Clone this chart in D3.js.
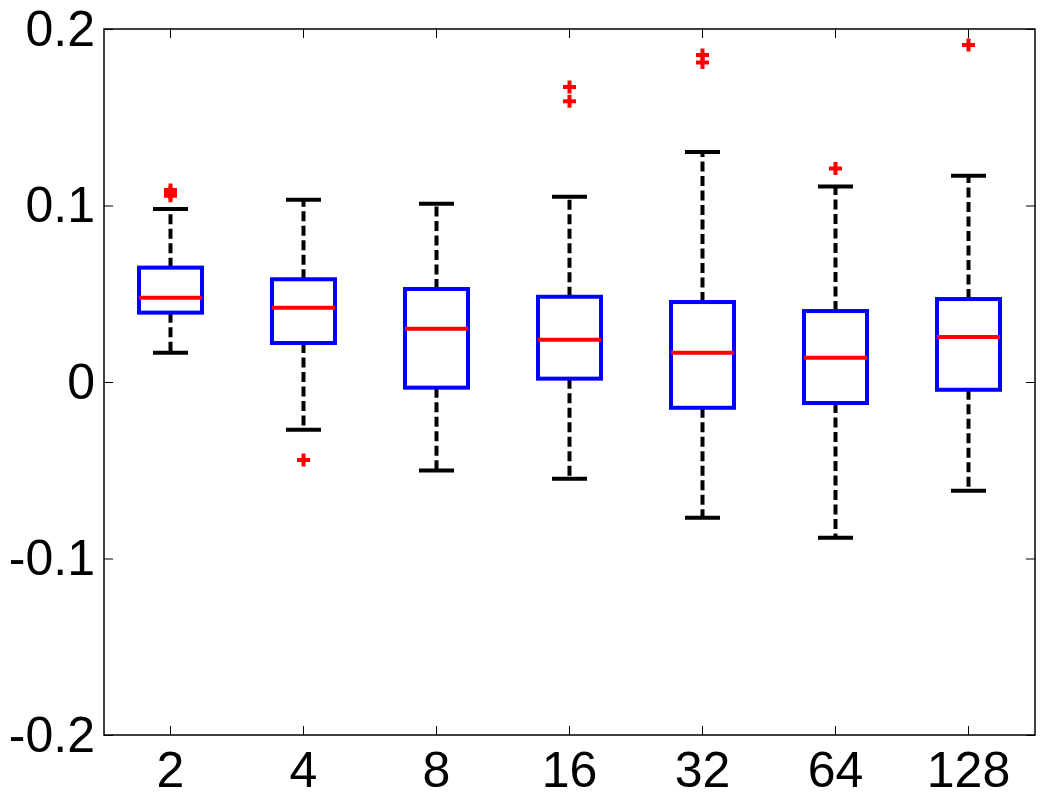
<!DOCTYPE html>
<html>
<head>
<meta charset="utf-8">
<script src="https://cdn.jsdelivr.net/npm/d3@7"></script>
<style>
  body { margin: 0; background: #fff; overflow: hidden; }
  svg { display: block; }
  .axis text { font-family: "Liberation Sans", Arial, sans-serif; font-size: 50px; fill: #000; }
</style>
</head>
<body>
<div id="chart"></div>
<script>
// Data
const categories = ["2", "4", "8", "16", "32", "64", "128"];
const whiskerHi = [0.098, 0.1033, 0.101, 0.105, 0.1303, 0.1107, 0.1169];
const q3        = [0.0648, 0.0582, 0.0527, 0.0483, 0.0453, 0.0402, 0.047];
const medians   = [0.0478, 0.0421, 0.0302, 0.024, 0.0166, 0.0138, 0.0255];
const q1        = [0.0393, 0.0221, -0.0032, 0.0019, -0.0146, -0.0119, -0.0044];
const whiskerLo = [0.0166, -0.027, -0.0502, -0.0548, -0.0769, -0.0882, -0.0616];
const outliers  = [
  [0.1055, 0.107, 0.1088],
  [-0.0442],
  [],
  [0.159, 0.1671],
  [0.181, 0.1853],
  [0.121],
  [0.191]
];
const yTicks = [-0.2, -0.1, 0, 0.1, 0.2];

// Setup: dimensions and margins
const svgWidth = 1049, svgHeight = 803;
const margin = { top: 29, right: 14, bottom: 68, left: 104 };
const innerWidth = svgWidth - margin.left - margin.right;
const innerHeight = svgHeight - margin.top - margin.bottom;

const svg = d3.select("#chart")
  .append("svg")
  .attr("width", svgWidth)
  .attr("height", svgHeight)
  .append("g")
  .attr("transform", `translate(${margin.left}, ${margin.top})`);

// Scales
const xScale = d3.scaleBand().domain(categories).range([0, innerWidth]).padding(0);
const yScale = d3.scaleLinear().domain([-0.2, 0.2]).range([innerHeight, 0]);
const cx = c => xScale(c) + xScale.bandwidth() / 2;

const boxW = 63, capW = 35;

const rows = categories.map((c, i) => ({
  c, lo: whiskerLo[i], q1: q1[i], med: medians[i], q3: q3[i], hi: whiskerHi[i], out: outliers[i]
}));

// Whiskers (dashed)
const g = svg.append("g");
g.selectAll(".wup").data(rows).join("line")
  .attr("x1", d => cx(d.c)).attr("x2", d => cx(d.c))
  .attr("y1", d => yScale(d.q3)).attr("y2", d => yScale(d.hi))
  .attr("stroke", "#000").attr("stroke-width", 4).attr("stroke-dasharray", "10,4.5");
g.selectAll(".wdn").data(rows).join("line")
  .attr("x1", d => cx(d.c)).attr("x2", d => cx(d.c))
  .attr("y1", d => yScale(d.q1)).attr("y2", d => yScale(d.lo))
  .attr("stroke", "#000").attr("stroke-width", 4).attr("stroke-dasharray", "10,4.5");

// Caps
g.selectAll(".caphi").data(rows).join("line")
  .attr("x1", d => cx(d.c) - capW / 2).attr("x2", d => cx(d.c) + capW / 2)
  .attr("y1", d => yScale(d.hi)).attr("y2", d => yScale(d.hi))
  .attr("stroke", "#000").attr("stroke-width", 4);
g.selectAll(".caplo").data(rows).join("line")
  .attr("x1", d => cx(d.c) - capW / 2).attr("x2", d => cx(d.c) + capW / 2)
  .attr("y1", d => yScale(d.lo)).attr("y2", d => yScale(d.lo))
  .attr("stroke", "#000").attr("stroke-width", 4);

// Boxes
g.selectAll(".box").data(rows).join("rect")
  .attr("x", d => cx(d.c) - boxW / 2)
  .attr("y", d => yScale(d.q3))
  .attr("width", boxW)
  .attr("height", d => yScale(d.q1) - yScale(d.q3))
  .attr("fill", "none").attr("stroke", "#0000ff").attr("stroke-width", 4);

// Medians
g.selectAll(".med").data(rows).join("line")
  .attr("x1", d => cx(d.c) - boxW / 2).attr("x2", d => cx(d.c) + boxW / 2)
  .attr("y1", d => yScale(d.med)).attr("y2", d => yScale(d.med))
  .attr("stroke", "#ff0000").attr("stroke-width", 4);

// Outliers as red plus signs
const outPts = rows.flatMap(d => d.out.map(v => ({ c: d.c, v })));
g.selectAll(".out").data(outPts).join("path")
  .attr("transform", d => `translate(${cx(d.c)}, ${yScale(d.v)})`)
  .attr("d", "M-6.5,0H6.5M0,-6.5V6.5")
  .attr("stroke", "#ff0000").attr("stroke-width", 4).attr("fill", "none");

// Axes with inward ticks on all four sides
const fmt = d => String(d);
svg.append("g").attr("class", "axis")
  .call(d3.axisLeft(yScale).tickValues(yTicks).tickFormat(fmt).tickSizeInner(-9).tickSizeOuter(0).tickPadding(9))
  .call(a => a.select(".domain").remove());
svg.append("g").attr("class", "axis")
  .attr("transform", `translate(${innerWidth}, 0)`)
  .call(d3.axisRight(yScale).tickValues(yTicks).tickFormat("").tickSizeInner(-9).tickSizeOuter(0))
  .call(a => a.select(".domain").remove());
svg.append("g").attr("class", "axis")
  .attr("transform", `translate(0, ${innerHeight})`)
  .call(d3.axisBottom(xScale).tickSizeInner(-9).tickSizeOuter(0).tickPadding(16))
  .call(a => a.select(".domain").remove());
svg.append("g").attr("class", "axis")
  .call(d3.axisTop(xScale).tickFormat("").tickSizeInner(-9).tickSizeOuter(0))
  .call(a => a.select(".domain").remove());

// Frame
svg.append("rect")
  .attr("x", 0).attr("y", 0)
  .attr("width", innerWidth).attr("height", innerHeight)
  .attr("fill", "none").attr("stroke", "#000").attr("stroke-width", 1.5);
</script>
</body>
</html>
